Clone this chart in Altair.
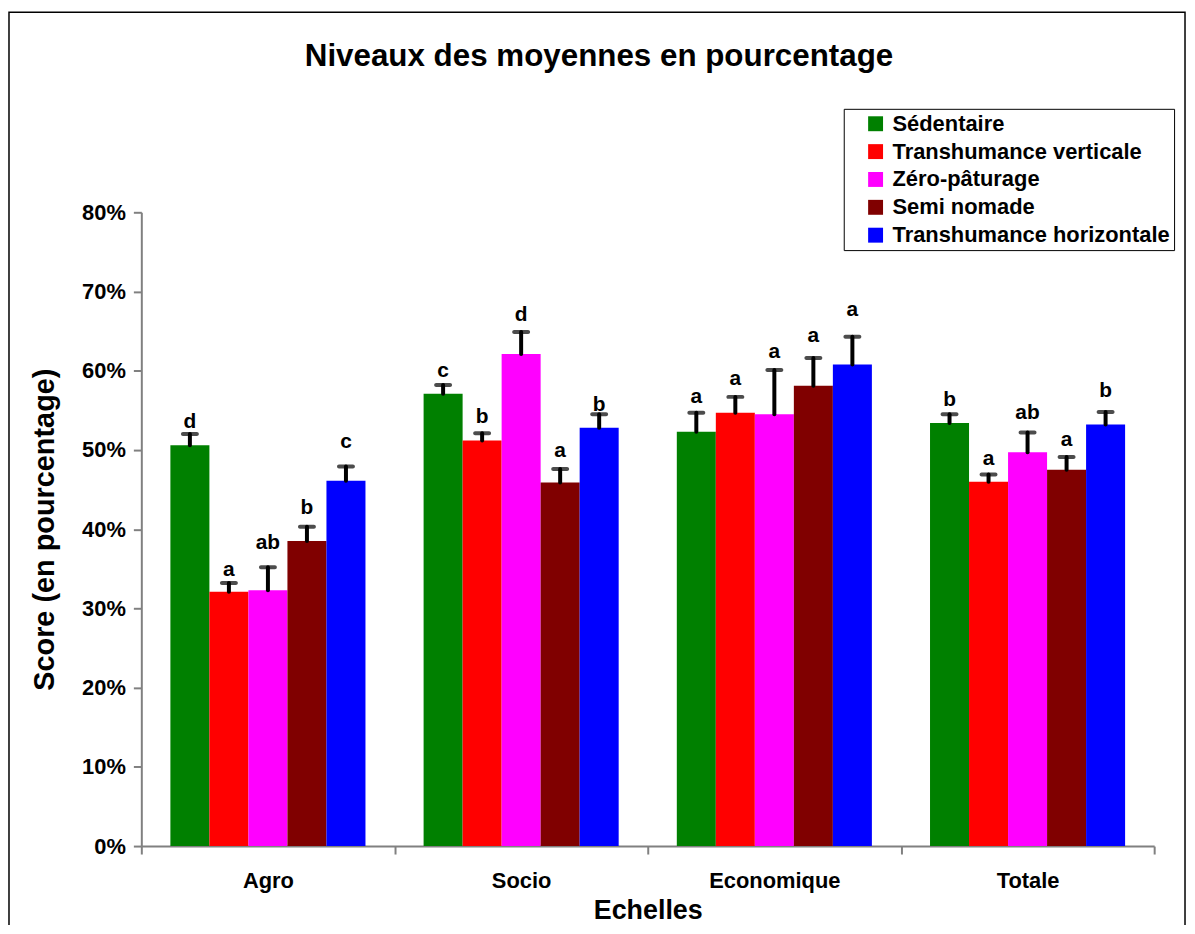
import altair as alt
import pandas as pd

categories = ["Agro", "Socio", "Economique", "Totale"]
systems = ["Sédentaire", "Transhumance verticale", "Zéro-pâturage", "Semi nomade", "Transhumance horizontale"]
colors = ["#008000", "#FF0000", "#FF00FF", "#800000", "#0000FF"]

# mean values (%) per system, in category order
sedentaire = [50.6, 57.1, 52.3, 53.4]
trans_verticale = [32.1, 51.2, 54.7, 46.0]
zero_paturage = [32.3, 62.1, 54.5, 49.7]
semi_nomade = [38.5, 45.9, 58.1, 47.5]
trans_horizontale = [46.1, 52.8, 60.8, 53.2]

# error (upper) values (%)
err_sedentaire = [1.4, 1.1, 2.4, 1.1]
err_trans_verticale = [1.1, 0.9, 2.0, 0.9]
err_zero_paturage = [2.9, 2.8, 5.6, 2.5]
err_semi_nomade = [1.8, 1.7, 3.5, 1.6]
err_trans_horizontale = [1.8, 1.7, 3.5, 1.6]

# significance letters
let_sedentaire = ["d", "c", "a", "b"]
let_trans_verticale = ["a", "b", "a", "a"]
let_zero_paturage = ["ab", "d", "a", "ab"]
let_semi_nomade = ["b", "a", "a", "a"]
let_trans_horizontale = ["c", "b", "a", "b"]

# letter heights (%)
pos_sedentaire = [53.5, 59.9, 56.7, 56.3]
pos_trans_verticale = [34.9, 54.2, 59.0, 48.9]
pos_zero_paturage = [38.2, 67.0, 62.4, 54.7]
pos_semi_nomade = [42.7, 49.9, 64.4, 51.3]
pos_trans_horizontale = [51.0, 55.7, 67.6, 57.4]

vals = [sedentaire, trans_verticale, zero_paturage, semi_nomade, trans_horizontale]
errs = [err_sedentaire, err_trans_verticale, err_zero_paturage, err_semi_nomade, err_trans_horizontale]
lets = [let_sedentaire, let_trans_verticale, let_zero_paturage, let_semi_nomade, let_trans_horizontale]
poss = [pos_sedentaire, pos_trans_verticale, pos_zero_paturage, pos_semi_nomade, pos_trans_horizontale]

rows = []
for si, s in enumerate(systems):
    for ci, c in enumerate(categories):
        v = vals[si][ci]
        rows.append({
            "Echelle": c, "Systeme": s, "value": v,
            "top": round(v + errs[si][ci], 2),
            "letter": lets[si][ci], "lpos": poss[si][ci],
        })
df = pd.DataFrame(rows)

FONT = "Liberation Sans"
W, H = 1018, 637

x_enc = alt.X("Echelle:N", sort=categories,
              scale=alt.Scale(paddingInner=0, paddingOuter=0),
              axis=alt.Axis(title="Echelles", labelAngle=0, tickBand="extent",
                            titleY=65, titleBaseline="middle"))
xo_enc = alt.XOffset("Systeme:N", sort=systems,
                     scale=alt.Scale(domain=systems, paddingInner=0, paddingOuter=0.745))
y_scale = alt.Scale(domain=[0, 80], nice=False, zero=True)

base = alt.Chart(df)

bars = base.mark_bar().encode(
    x=x_enc, xOffset=xo_enc,
    y=alt.Y("value:Q", scale=y_scale,
            axis=alt.Axis(title="Score (en pourcentage)", values=[0, 10, 20, 30, 40, 50, 60, 70, 80],
                          labelExpr="datum.value + '%'", titleX=-97, titleY=H / 2,
                          titleBaseline="middle", titleFontSize=29)),
    color=alt.Color("Systeme:N", sort=systems,
                    scale=alt.Scale(domain=systems, range=colors),
                    legend=alt.Legend(title=None)),
)

err_rule = base.mark_rule(color="black", strokeWidth=4, strokeCap="round").encode(
    x=x_enc, xOffset=xo_enc,
    y=alt.Y("value:Q", scale=y_scale), y2="top:Q",
)

err_cap = base.mark_tick(color="black", thickness=4, size=18, cornerRadius=2).encode(
    x=x_enc, xOffset=xo_enc,
    y=alt.Y("top:Q", scale=y_scale),
)

letters = base.mark_text(font=FONT, fontSize=21, fontWeight="bold", color="black",
                         baseline="middle").encode(
    x=x_enc, xOffset=xo_enc,
    y=alt.Y("lpos:Q", scale=y_scale),
    text="letter:N",
)

border = alt.Chart(pd.DataFrame({"a": [0]})).mark_rect(
    fill=None, stroke="black", strokeWidth=1.5
).encode(
    x=alt.value(-133), x2=alt.value(1049),
    y=alt.value(-201), y2=alt.value(H + 200),
)

chart = alt.layer(bars, err_rule, err_cap, letters, border).properties(
    width=W, height=H,
    title=alt.TitleParams("Niveaux des moyennes en pourcentage", font=FONT, fontSize=31.5,
                          fontWeight="bold", color="black", anchor="middle", dx=-49,
                          offset=-86, baseline="alphabetic"),
    padding={"left": 134, "top": 203, "right": 33, "bottom": 77},
    autosize=alt.AutoSizeParams(type="none"),
).configure_view(stroke=None).configure_axis(
    labelFont=FONT, labelFontSize=22, labelFontWeight="bold", labelColor="black",
    titleFont=FONT, titleFontSize=27, titleFontWeight="bold", titleColor="black",
    domainColor="#808080", domainWidth=2, tickColor="#808080", tickWidth=2, tickSize=8,
    grid=False,
).configure_axisY(labelPadding=8).configure_axisX(labelPadding=17).configure_legend(
    orient="none", legendX=706, legendY=-104, strokeColor="black", fillColor="white",
    padding=4, symbolType="square", symbolSize=225, symbolStrokeWidth=0,
    labelFont=FONT, labelFontSize=22, labelFontWeight="bold", labelColor="black",
    rowPadding=6, symbolOffset=17, labelOffset=6, labelLimit=400,
)

chart.save("out.html", embed_options={"renderer": "svg", "actions": False})
